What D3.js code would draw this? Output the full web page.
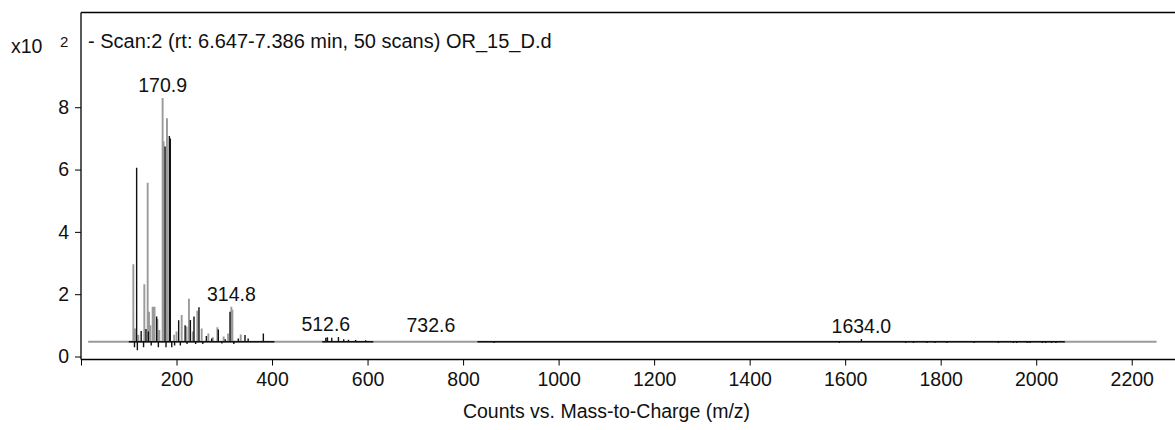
<!DOCTYPE html>
<html><head><meta charset="utf-8">
<script src="https://cdn.jsdelivr.net/npm/d3@7"></script>
<style>
html,body{margin:0;padding:0;background:#fff;}
svg text{font-family:"Liberation Sans",Arial,sans-serif;fill:#111;}
</style></head>
<body><svg id="c" width="1175" height="430"></svg>
<script>
// ---- data (intensities in x10^2 counts) ----
const titleText = "- Scan:2 (rt: 6.647-7.386 min, 50 scans) OR_15_D.d";
const xLabel = "Counts vs. Mass-to-Charge (m/z)";
const xTicks = [0,200,400,600,800,1000,1200,1400,1600,1800,2000,2200];
const yTicks = [0,2,4,6,8];
const baseline = 0.475;

const grayRange = [15, 2252];
const grayMz  = [109.6,113,120,132.6,139.6,142.4,145,150,154,160,164,170.9,173,180,195,200,210.8,221,226,234,243.6,252.7,266.6,276,285.5,298.7,308,314.8,317,334.4,
                 2065,2075,2088,2097,2110,2122,2135,2146,2158,2170,2183,2195,2207,2220,2232,2245];
const grayInt = [2.96,0.9,0.7,2.32,5.58,1.44,1.0,1.6,1.6,1.2,0.85,8.3,6.9,7.65,0.7,0.8,1.33,0.96,1.85,0.8,1.47,0.9,0.74,0.62,0.94,0.64,0.74,1.6,1.5,0.71,
                 0.44,0.5,0.44,0.49,0.44,0.5,0.45,0.49,0.44,0.5,0.45,0.49,0.44,0.5,0.45,0.49];

const blackRanges = [[100, 405], [505, 612], [830, 2060]];
const blackMz  = [112,116.5,118,126,131,136,141,147,158.4,162,176,178,185,187,190,196,204.5,208,218,222,229,236.6,240,247,255,262.5,273.6,287.5,295,302,312,320,329.4,343.4,350,381.8,
                  427,444.5,460,478,490,497,512.6,516,525,539,550,560,575,596,612.7,630,654.5,693,732.6,762,813,865,
                  1588,1634,1727,1743,1771,1788,1813,1870,1921,1952,1959,1981,1987,2013,2020,2032,2041.5];
const blackInt = [0.3,6.06,0.2,0.82,0.3,0.88,0.8,0.35,1.28,0.3,6.74,0.3,7.08,7.0,0.3,0.35,1.16,0.35,1.0,0.4,1.17,1.28,0.4,1.58,0.4,0.66,0.58,0.87,0.42,0.55,1.44,0.4,0.58,0.69,0.58,0.74,
                  0.5,0.5,0.51,0.51,0.52,0.53,0.6,0.62,0.6,0.63,0.55,0.54,0.53,0.52,0.5,0.5,0.5,0.5,0.6,0.58,0.56,0.43,
                  0.43,0.56,0.43,0.43,0.43,0.43,0.43,0.43,0.43,0.43,0.43,0.43,0.43,0.43,0.43,0.43,0.43];

const peakLabels = ["170.9","314.8","512.6","732.6","1634.0"];

// ---- layout ----
const svg = d3.select("#c");
const L = 81, R = 1175, T = 12.5, B = 359.5;
const x = d3.scaleLinear().domain([0, 2290.6]).range([L, R]);
const y = d3.scaleLinear().domain([-0.096, 11.04]).range([B, T]);
const FS = 19.5;

// frame
svg.append("line").attr("x1",L).attr("x2",R).attr("y1",T).attr("y2",T).attr("stroke","#000").attr("stroke-width",1.3);
svg.append("line").attr("x1",L).attr("x2",L).attr("y1",T).attr("y2",B).attr("stroke","#000").attr("stroke-width",1.3);

// axes
const xAxis = svg.append("g").attr("transform",`translate(0,${B})`)
  .call(d3.axisBottom(x).tickValues(xTicks).tickSize(6).tickPadding(7).tickFormat(d => d===0 ? "" : d));
xAxis.select(".domain").attr("stroke","#000").attr("stroke-width",1.6).attr("d",`M${L},0H${R}`);
xAxis.selectAll("text").attr("font-size",FS).attr("fill","#111");
const yAxis = svg.append("g").attr("transform",`translate(${L},0)`)
  .call(d3.axisLeft(y).tickValues(yTicks).tickSize(6).tickPadding(6));
yAxis.select(".domain").remove();
yAxis.selectAll("text").attr("font-size",FS).attr("fill","#111");

// traces
function spikePath(mz, val, range){
  const idx = d3.range(mz.length).filter(i => mz[i]>=range[0] && mz[i]<=range[1]).sort((a,b)=>mz[a]-mz[b]);
  const yb = y(baseline);
  let p = `M${x(range[0])},${yb}`;
  idx.forEach(i => { const xi = x(mz[i]); p += `L${xi},${yb}L${xi},${y(val[i])}L${xi},${yb}`; });
  p += `L${x(range[1])},${yb}`;
  return p;
}
svg.append("path").attr("d", spikePath(grayMz, grayInt, grayRange))
  .attr("fill","none").attr("stroke","#9a9a9a").attr("stroke-width",1.9);
blackRanges.forEach(r => {
  svg.append("path").attr("d", spikePath(blackMz, blackInt, r))
    .attr("fill","none").attr("stroke","#111").attr("stroke-width",1.4);
});

// peak labels
peakLabels.forEach(lab => {
  const m = +lab;
  const near = [];
  grayMz.forEach((v,i)=>{ if (Math.abs(v-m)<=15) near.push(grayInt[i]); });
  blackMz.forEach((v,i)=>{ if (Math.abs(v-m)<=15) near.push(blackInt[i]); });
  const top = d3.max(near);
  svg.append("text").attr("x", x(m)).attr("y", y(top)-6).attr("text-anchor","middle")
    .attr("font-size",FS).text(lab);
});

// title & multiplier
svg.append("text").attr("x",88).attr("y",48).attr("font-size",20).text(titleText);
svg.append("text").attr("x",11).attr("y",53).attr("font-size",FS).text("x10");
svg.append("text").attr("x",60).attr("y",47).attr("font-size",15).text("2");

// x label
svg.append("text").attr("x",(456+757)/2).attr("y",418).attr("text-anchor","middle").attr("font-size",FS).text(xLabel);
</script></body></html>
